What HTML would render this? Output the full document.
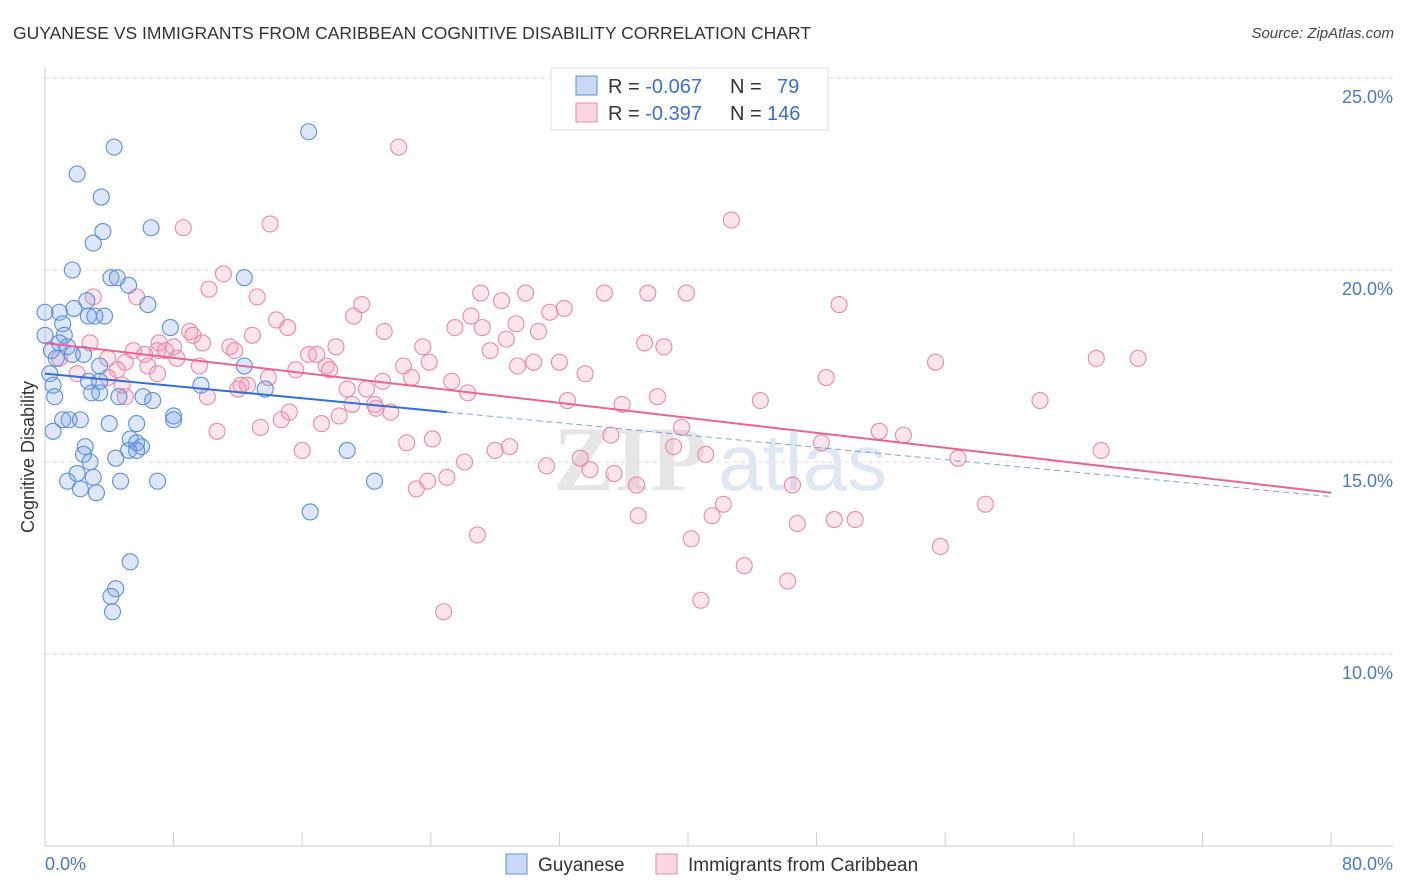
<!DOCTYPE html>
<html><head><meta charset="utf-8">
<style>
body{margin:0;background:#fff;font-family:"Liberation Sans",sans-serif;}
#wrap{position:relative;width:1406px;height:892px;overflow:hidden;}
.t{position:absolute;white-space:nowrap;}
</style></head>
<body><div id="wrap">
<div class="t" style="left:13px;top:23px;font-size:17.5px;color:#333;">GUYANESE VS IMMIGRANTS FROM CARIBBEAN COGNITIVE DISABILITY CORRELATION CHART</div>
<div class="t" style="right:12px;top:25px;font-size:15px;color:#444;font-style:italic;">Source: ZipAtlas.com</div>
<svg id="svg" width="1406" height="892" style="position:absolute;left:0;top:0"></svg>
</div>
<script>
const xTicks=[0,8,16,24,32,40,48,56,64,72,80];
const yTicks=[10,15,20,25];
const yTickLabels=["10.0%","15.0%","20.0%","25.0%"];
const xLabels=["0.0%","80.0%"];
const blueX=[16.4,4.3,2.0,3.5,6.6,3.6,3.0,1.7,4.1,4.5,12.4,5.2,2.6,6.4,1.8,0.9,0,2.7,3.7,3.1,1.1,7.8,1.2,0,0.9,0.4,1.4,1.7,2.4,0.7,12.4,3.4,0.3,2.7,3.4,0.5,9.7,13.7,2.9,3.4,0.6,4.6,6.1,6.7,8.0,8.0,1.5,1.1,2.2,4.0,5.7,0.5,5.3,2.5,5.7,6.0,5.2,18.8,5.7,2.4,4.4,2.8,2.0,3.0,4.7,7.0,1.4,20.5,2.2,3.2,16.5,5.3,4.4,4.1,4.2];
const blueY=[23.6,23.2,22.5,21.9,21.1,21.0,20.7,20.0,19.8,19.8,19.8,19.6,19.2,19.1,19.0,18.9,18.9,18.8,18.8,18.8,18.6,18.5,18.3,18.3,18.1,17.9,18.0,17.8,17.8,17.7,17.5,17.5,17.3,17.1,17.1,17.0,17.0,16.9,16.8,16.8,16.7,16.7,16.7,16.6,16.2,16.1,16.1,16.1,16.1,16.0,16.0,15.8,15.6,15.4,15.5,15.4,15.3,15.3,15.3,15.2,15.1,15.0,14.7,14.6,14.5,14.5,14.5,14.5,14.3,14.2,13.7,12.4,11.7,11.5,11.1];
const pinkX=[22.0,42.7,8.6,14.0,11.1,10.2,27.1,37.5,39.9,34.8,29.9,3.0,5.7,13.2,28.4,19.7,49.4,32.3,31.4,19.2,26.5,14.4,29.3,15.1,25.5,21.1,9.0,27.2,30.7,9.2,12.9,28.7,8.0,37.3,23.5,38.5,9.8,2.8,7.1,11.5,5.5,7.0,6.2,18.1,27.7,7.5,11.8,16.4,16.9,3.9,8.2,65.4,68.0,0.9,5.0,32.0,23.9,30.4,29.4,22.3,6.4,17.5,9.6,4.5,55.4,15.6,17.7,2.0,33.6,13.9,7.0,22.8,48.6,3.9,21.0,25.3,4.8,12.2,12.6,18.8,12.0,20.0,38.1,5.0,26.3,32.5,10.1,44.5,61.9,35.9,20.5,19.1,20.6,21.5,18.3,15.2,14.7,17.2,10.7,13.4,39.6,51.9,53.4,35.2,24.1,48.3,22.5,28.9,16.0,28.0,39.1,65.7,41.1,33.3,56.8,26.1,31.2,33.9,35.4,25.0,23.8,23.1,36.8,46.5,42.2,58.5,41.5,36.9,49.1,50.4,46.8,26.9,40.2,55.7,43.5,46.2,40.8,24.8];
const pinkY=[23.2,21.3,21.1,21.2,19.9,19.5,19.4,19.4,19.4,19.4,19.4,19.3,19.3,19.3,19.2,19.1,19.1,19.0,18.9,18.8,18.8,18.7,18.6,18.5,18.5,18.4,18.4,18.5,18.4,18.3,18.3,18.2,18.0,18.1,18.0,18.0,18.1,18.1,18.1,18.0,17.9,17.9,17.8,18.0,17.9,17.9,17.9,17.8,17.8,17.7,17.7,17.7,17.7,17.7,17.6,17.6,17.6,17.6,17.5,17.5,17.5,17.5,17.5,17.4,17.6,17.4,17.4,17.3,17.3,17.2,17.3,17.2,17.2,17.2,17.1,17.1,17.0,17.0,17.0,16.9,16.9,16.9,16.7,16.7,16.8,16.6,16.7,16.6,16.6,16.5,16.5,16.5,16.4,16.3,16.2,16.3,16.1,16.0,15.8,15.9,15.9,15.8,15.7,15.7,15.6,15.5,15.5,15.4,15.3,15.3,15.4,15.3,15.2,15.1,15.1,15.0,14.9,14.8,14.7,14.6,14.5,14.3,14.4,14.4,13.9,13.9,13.6,13.6,13.5,13.5,13.4,13.1,13.0,12.8,12.3,11.9,11.4,11.1];
const blueTrendX=[0,25,80], blueTrendY=[17.3,16.3,14.1];
const pinkTrendX=[0,80], pinkTrendY=[18.1,14.2];

const X=v=>45+v/80*1286;
const Y=v=>846-(v-5)/5*192;
const svg=document.getElementById('svg');
const NS='http://www.w3.org/2000/svg';
function mk(tag,attrs,parent){const e=document.createElementNS(NS,tag);for(const k in attrs)e.setAttribute(k,attrs[k]);(parent||svg).appendChild(e);return e;}

yTicks.forEach((v,i)=>{
  const g=mk('line',{x1:45,x2:1393,y1:Y(v),y2:Y(v),stroke:'#ddd','stroke-dasharray':'4,4'});
  
  
  const t=mk('text',{x:1393,y:Y(v)+25,'text-anchor':'end','font-size':18,fill:'#4a78c8'});
  t.textContent=yTickLabels[i];
  
  
});
const ax=mk('line',{x1:45,x2:45,y1:68,y2:846,stroke:'#ccc'});


const bx=mk('line',{x1:45,x2:1393,y1:846,y2:846,stroke:'#ccc'});


xTicks.forEach(v=>{
  const l=mk('line',{x1:X(v),x2:X(v),y1:832,y2:846,stroke:'#ccc'});
  
  
});
[[0,'start',45],[80,'end',1393]].forEach((d,i)=>{
  const t=mk('text',{x:d[2],y:870,'text-anchor':d[1],'font-size':18,fill:'#4a78c8'});
  t.textContent=xLabels[i];
  
  
});
const yt=mk('text',{x:34,y:457,'text-anchor':'middle','font-size':18,fill:'#333',transform:'rotate(-90 34 457)'});
yt.textContent='Cognitive Disability';



const wm=mk('text',{x:630,y:490,'text-anchor':'middle','font-size':92,fill:'#e6e6e6','font-weight':'bold','font-family':'Liberation Serif'});
wm.textContent='ZIP';


const wm2=mk('text',{x:718,y:490,'font-size':80,fill:'#dfe7f3'});
wm2.textContent='atlas';



pinkX.forEach((v,i)=>{
  const c=mk('circle',{cx:X(v),cy:Y(pinkY[i]),r:8,fill:'rgba(242,150,182,0.25)',stroke:'#e88aab','stroke-width':1.1});
  
  
});
blueX.forEach((v,i)=>{
  const c=mk('circle',{cx:X(v),cy:Y(blueY[i]),r:8,fill:'rgba(120,160,230,0.25)',stroke:'#5b8fd9','stroke-width':1.1});
  
  
});
const bt=mk('line',{x1:X(blueTrendX[0]),y1:Y(blueTrendY[0]),x2:X(blueTrendX[1]),y2:Y(blueTrendY[1]),stroke:'#2f6fd6','stroke-width':2});


const bd=mk('line',{x1:X(blueTrendX[1]),y1:Y(blueTrendY[1]),x2:X(blueTrendX[2]),y2:Y(blueTrendY[2]),stroke:'#7fa3dd','stroke-width':1,'stroke-dasharray':'6,4'});


const pt=mk('line',{x1:X(pinkTrendX[0]),y1:Y(pinkTrendY[0]),x2:X(pinkTrendX[1]),y2:Y(pinkTrendY[1]),stroke:'#e8658f','stroke-width':2});



const lg=mk('rect',{x:551,y:68,width:277,height:62,fill:'#fff',stroke:'#ddd'});


[['R = ','-0.067','N = ','79','rgba(120,160,230,0.4)','#5b8fd9',86],['R = ','-0.397','N = ','146','rgba(242,150,182,0.4)','#e88aab',113]].forEach(r=>{
  const s=mk('rect',{x:576,y:r[6]-10,width:21,height:19,fill:r[4],stroke:r[5]});
  
  
  const t=mk('text',{x:608,y:r[6]+7,'font-size':20,fill:'#333'});
  t.innerHTML=`R = <tspan fill="#3b6fcf">${r[1]}</tspan><tspan x="730">N = </tspan><tspan x="${r[3].length>2?767:777}" fill="#3b6fcf">${r[3]}</tspan>`;
  
  
});
[['Guyanese',506,'rgba(120,160,230,0.4)','#5b8fd9'],['Immigrants from Caribbean',656,'rgba(242,150,182,0.4)','#e88aab']].forEach(l=>{
  const s=mk('rect',{x:l[1],y:854,width:21,height:20,fill:l[2],stroke:l[3]});
  
  
  const t=mk('text',{x:l[1]+32,y:871,'font-size':19,fill:'#333'});
  t.textContent=l[0];
  
  
});
</script>
</body></html>
